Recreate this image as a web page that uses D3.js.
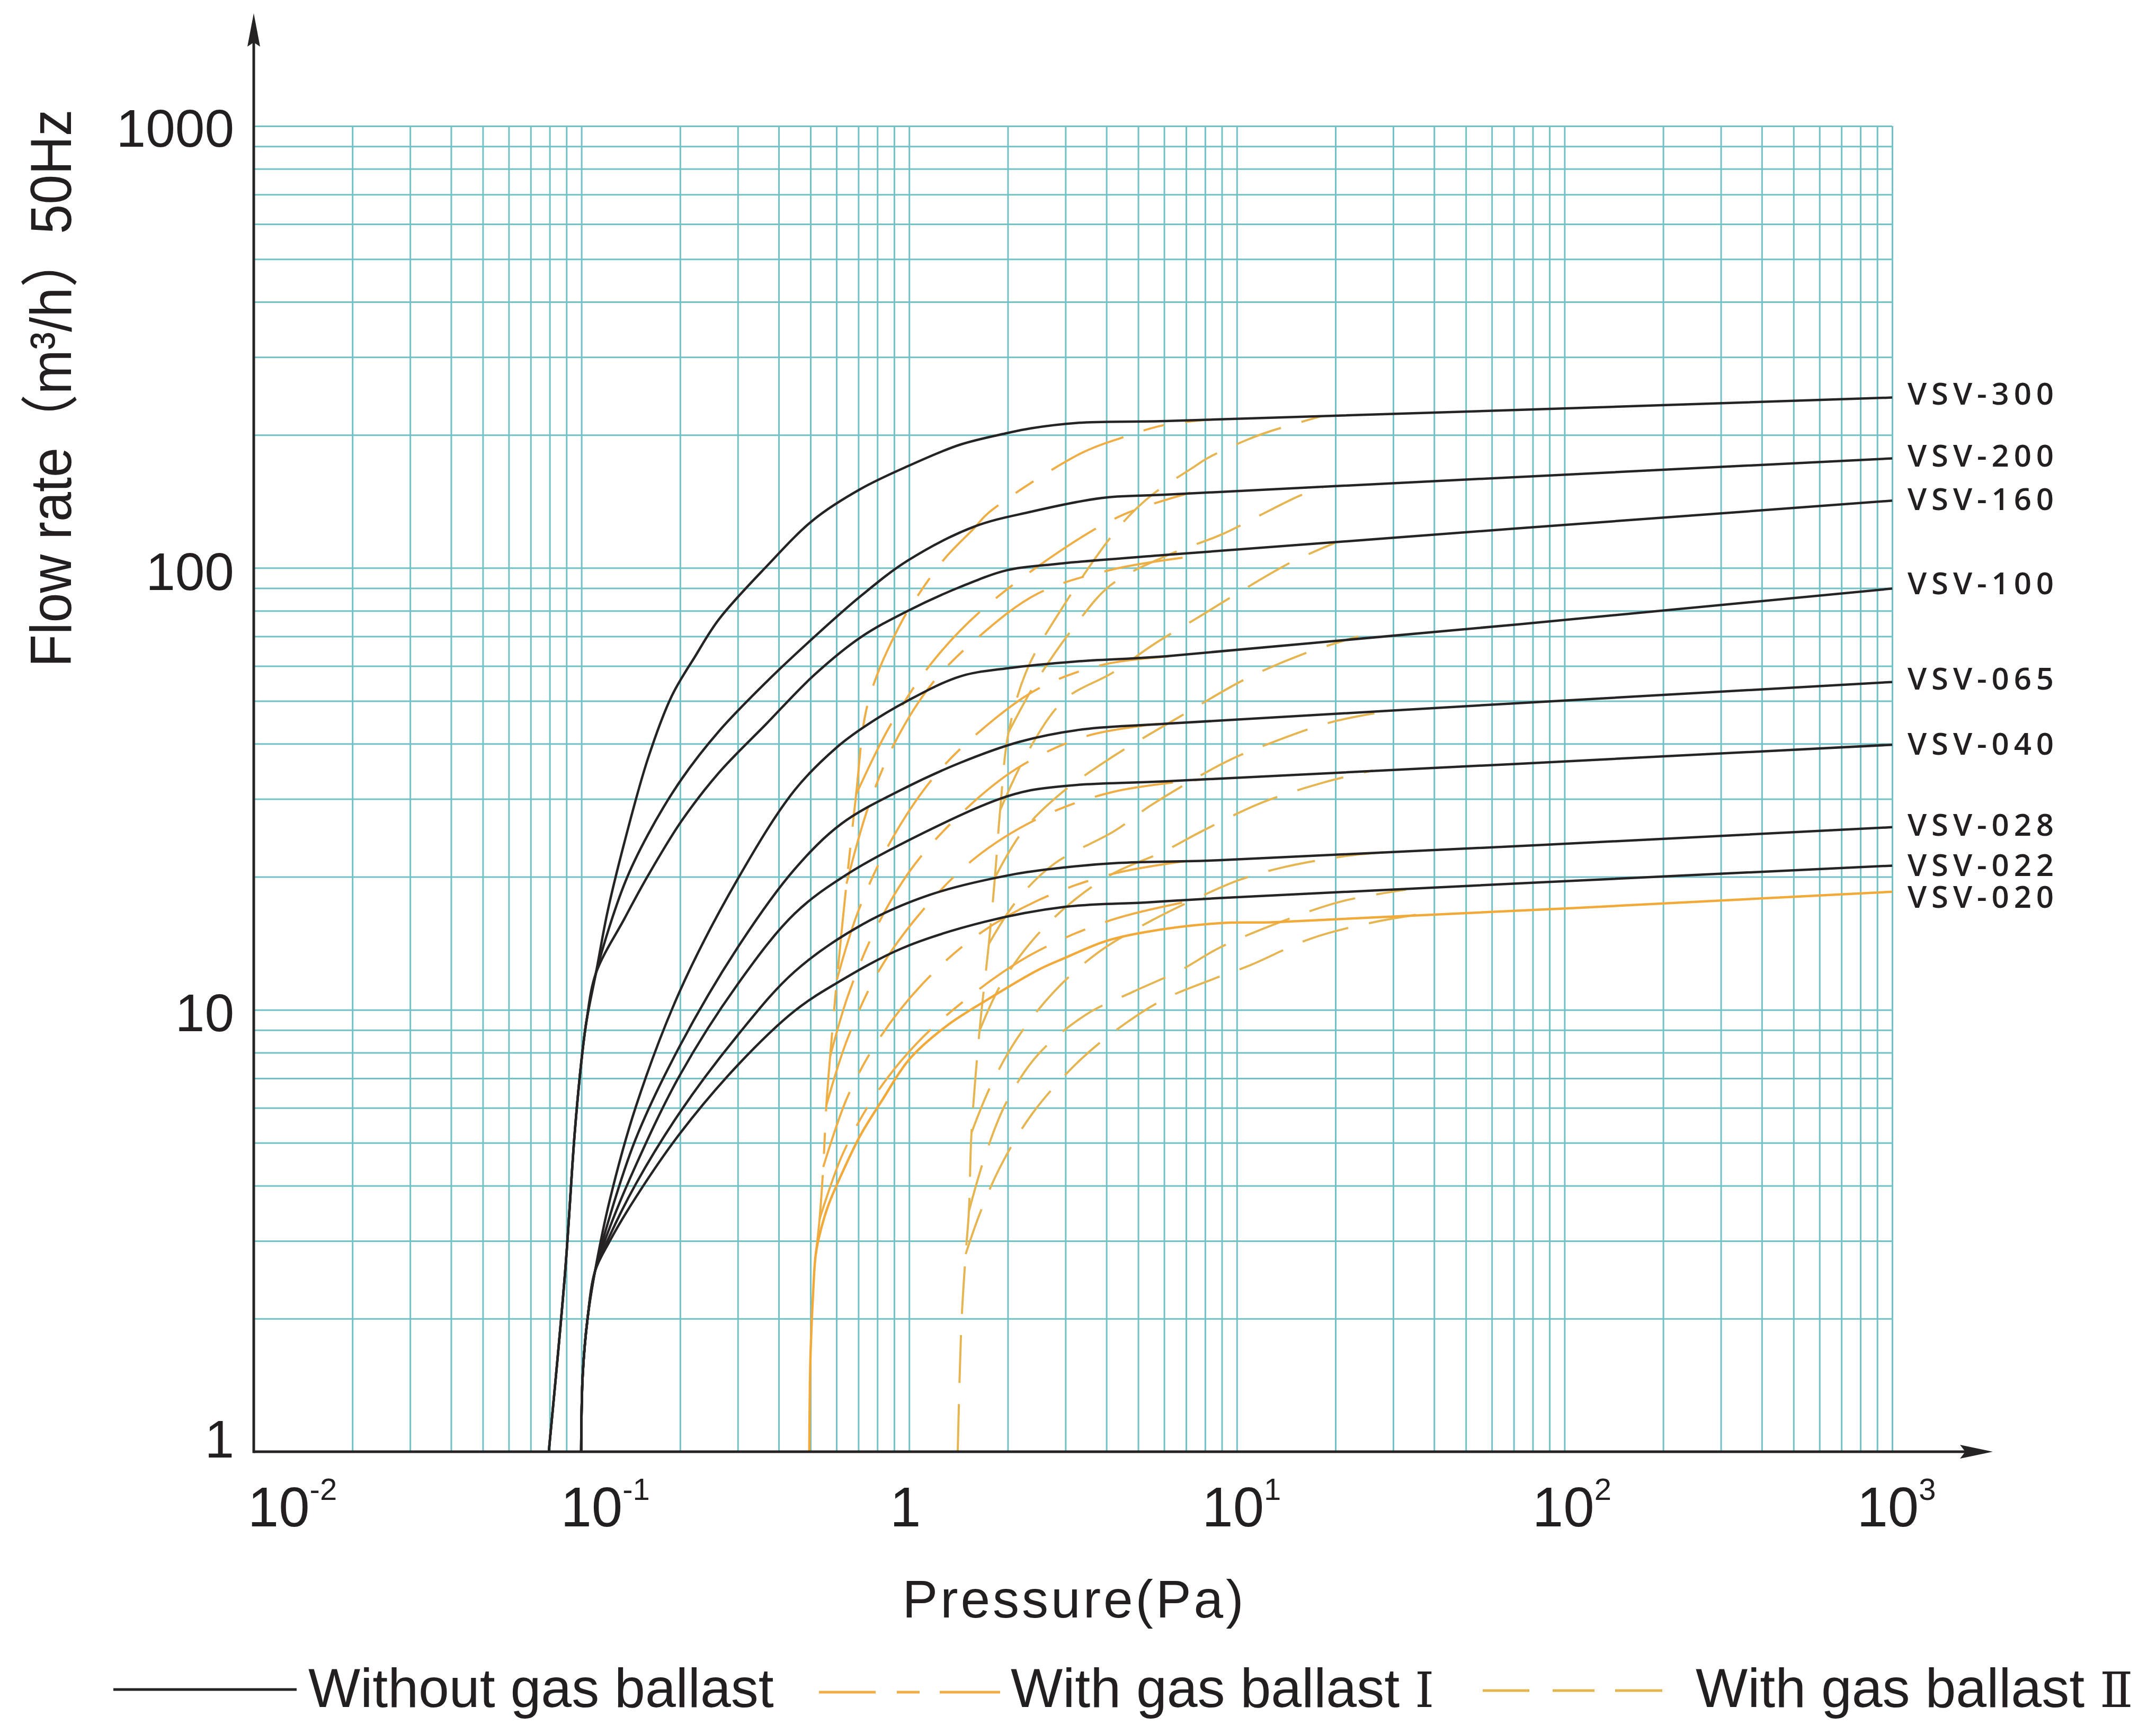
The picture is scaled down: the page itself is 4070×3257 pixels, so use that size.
<!DOCTYPE html>
<html>
<head>
<meta charset="utf-8">
<script src="https://cdn.jsdelivr.net/npm/d3@7"></script>
<style>
  body { margin: 0; background: #fff; }
  text { fill: #231f20; }
</style>
</head>
<body>
<script>
// ---- data: [pressure Pa, flow m3/h] ----
const xDomain = [0.01, 1000];
const yDomain = [1, 1000];
const xTickValues = [0.01, 0.1, 1, 10, 100, 1000];
const xTickBase = ['10', '10', '1', '10', '10', '10'];
const xTickExp = ['-2', '-1', '', '1', '2', '3'];
const yTickValues = [1, 10, 100, 1000];
const yTickLabels = ['1', '10', '100', '1000'];

const modelNames = ['VSV-300', 'VSV-200', 'VSV-160', 'VSV-100', 'VSV-065', 'VSV-040', 'VSV-028', 'VSV-022', 'VSV-020'];

// shared steep starts of the curves without gas ballast
const footA = [[0.0795, 1], [0.0892, 2.56], [0.0954, 5.27], [0.0998, 7.56], [0.1035, 9.38], [0.1107, 12.1]];
const footB = [[0.0998, 1], [0.1009, 1.49], [0.1043, 1.99], [0.110, 2.56]];

// without gas ballast
const vsv300 = footA.concat([[0.1202, 16.7], [0.1354, 24.0], [0.1595, 37.0], [0.1886, 51.3], [0.2221, 63.0], [0.2627, 76.5], [0.3658, 100.5], [0.5113, 128.6], [0.7122, 151], [0.992, 170], [1.428, 190], [1.997, 202], [2.352, 207], [3.289, 213], [6.05, 215], [1000, 243]]);
const vsv200 = footA.concat([[0.1354, 19.3], [0.1595, 24.9], [0.2017, 33.2], [0.2627, 42.7], [0.3658, 55.1], [0.5113, 69.6], [0.7122, 86.4], [0.992, 104], [1.579, 124], [2.352, 134], [3.873, 144], [6.05, 146.5], [1000, 177]]);
const vsv160 = footA.concat([[0.1354, 16.1], [0.1595, 20.1], [0.2017, 26.7], [0.2627, 34.4], [0.3658, 44.3], [0.5113, 57.1], [0.7122, 69.7], [0.992, 80], [1.428, 90.5], [1.997, 98.9], [2.781, 102], [6.05, 107], [1000, 142]]);
const vsv100 = footB.concat([[0.1215, 3.66], [0.1464, 6.02], [0.1994, 11.0], [0.2991, 19.7], [0.4471, 31.4], [0.6024, 39.3], [0.7363, 43.9], [0.992, 50.1], [1.428, 56.8], [1.997, 59.3], [3.289, 61.5], [6.05, 63.1], [1000, 89.8]]);
const vsv065 = footB.concat([[0.1215, 3.37], [0.1464, 5.10], [0.1994, 8.27], [0.2991, 13.8], [0.4471, 20.8], [0.6228, 26.4], [0.941, 31.4], [1.428, 36.2], [2.168, 40.4], [3.289, 43.0], [6.05, 44.4], [1000, 55.2]]);
const vsv040 = footB.concat([[0.1215, 3.19], [0.1464, 4.44], [0.1994, 7.10], [0.2991, 11.4], [0.4471, 16.5], [0.649, 20.3], [1.113, 25.2], [1.861, 29.9], [2.352, 31.4], [3.289, 32.3], [6.05, 32.9], [1000, 39.8]]);
const vsv028 = footB.concat([[0.1215, 3.06], [0.1464, 4.03], [0.1994, 5.85], [0.2991, 8.74], [0.4471, 12.2], [0.72, 15.6], [1.155, 18.2], [2.042, 20.2], [2.985, 21.0], [4.363, 21.5], [8.785, 21.8], [1000, 25.9]]);
const vsv022 = footB.concat([[0.1215, 2.98], [0.1464, 3.76], [0.1994, 5.24], [0.3002, 7.5], [0.4471, 9.94], [0.5957, 11.45], [0.9557, 13.8], [1.689, 15.8], [2.985, 17.1], [5.275, 17.5], [8.785, 17.9], [1000, 21.2]]);
// VSV-020 is drawn as the orange solid curve
const vsv020 = [[0.496, 1], [0.5, 1.64], [0.51, 2.33], [0.519, 2.8], [0.535, 3.13], [0.566, 3.6], [0.635, 4.39], [0.71, 5.2], [0.827, 6.24], [1.0, 7.72], [1.297, 9.18], [1.753, 10.6], [2.469, 12.3], [2.985, 13.1], [3.976, 14.3], [5.275, 15.0], [8.785, 15.7], [13.3, 15.8], [1000, 18.5]];

// with gas ballast I
const gb1_300 = [[0.519, 2.8], [0.533, 3.36], [0.547, 4.41], [0.559, 6.08], [0.574, 7.84], [0.602, 11.7], [0.644, 19.3], [0.689, 30.7], [0.736, 46.8], [0.805, 58.2], [0.928, 73.2], [0.992, 80], [1.273, 104.2], [1.579, 123], [1.747, 133.3], [3.338, 181.6], [4.462, 197.2], [6.05, 210.8], [8.37, 216.7]];
const gb1_200 = [[0.689, 30.7], [0.874, 43.9], [1.177, 61.2], [1.658, 80], [3.075, 112.6], [4.529, 132.2], [7.212, 148]];
const gb1_160 = [[0.644, 19.3], [0.753, 29], [0.907, 40.4], [1.177, 54.8], [1.644, 70.2], [2.478, 87.6], [4.173, 99.2], [6.973, 105.7]];
const gb1_100 = [[0.602, 11.7], [0.699, 16.7], [0.874, 23.9], [1.177, 33.3], [1.644, 42.7], [2.478, 53.3], [3.874, 60.3], [6.215, 63.1]];
const gb1_065 = [[0.574, 7.84], [0.649, 10.7], [0.782, 15], [1.014, 20.8], [1.418, 27.5], [2.135, 35.2], [3.464, 41.6], [5.811, 44.4]];
const gb1_040 = [[0.559, 6.08], [0.649, 8.61], [0.811, 12.3], [1.093, 16.7], [1.583, 22], [2.478, 27.1], [4.173, 31.1], [8.125, 33.3]];
const gb1_028 = [[0.547, 4.41], [0.649, 6.36], [0.811, 8.61], [1.093, 11.4], [1.583, 14.6], [2.478, 17.7], [4.173, 20.3], [7.975, 22]];
const gb1_022 = [[0.533, 3.36], [0.625, 4.69], [0.782, 6.36], [1.053, 8.38], [1.526, 10.7], [2.387, 13.4], [4.173, 16], [7.975, 17.9]];

// with gas ballast II
const gb2_300 = [[1.407, 1], [1.444, 1.94], [1.488, 2.8], [1.522, 3.5], [1.55, 5.27], [1.64, 8.96], [1.751, 14.1], [1.827, 19.9], [1.896, 28.3], [2.012, 42.5], [2.3, 59.3], [2.985, 82.9], [4.173, 118.7], [4.934, 136.2], [5.621, 148], [7.293, 168.1], [8.185, 177.6], [10.86, 195.6], [12.51, 203.3], [18.02, 220.3]];
const gb2_200 = [[2.012, 42.5], [2.478, 56.3], [3.216, 74.2], [4.127, 91.5], [6.05, 106.3], [9.05, 119.3], [11.83, 131.8], [15.54, 145.6], [18.29, 152.1]];
const gb2_160 = [[1.896, 28.3], [2.3, 38.3], [2.985, 50.4], [4.173, 57.9], [5.621, 67.4], [7.626, 77.3], [9.79, 86.6], [14.58, 102.8], [19.9, 113.9]];
const gb2_100 = [[1.827, 19.9], [2.216, 25.3], [2.876, 30.7], [4.021, 36.7], [5.435, 42.1], [7.052, 47.1], [10.5, 55.8], [16.06, 64], [23.5, 70]];
const gb2_065 = [[1.751, 14.1], [2.135, 17.7], [2.771, 21.4], [4.236, 25.4], [5.497, 29.1], [9.26, 36.4], [12.51, 40], [19.27, 44.7], [28.2, 47.3]];
const gb2_040 = [[1.64, 8.96], [1.905, 11.4], [2.387, 14.4], [3.098, 17.4], [4.173, 20.3], [5.965, 22.8], [7.857, 25.4], [11.88, 29.4], [18.42, 32.7], [25.96, 34.8]];
const gb2_028 = [[1.55, 5.27], [1.773, 6.72], [2.135, 8.61], [2.771, 11], [3.732, 13.4], [5.217, 15.6], [7.57, 17.9], [10.23, 19.7], [13.79, 21], [21.6, 22.3], [29.7, 22.8]];
const gb2_022 = [[1.522, 3.5], [1.708, 4.69], [1.982, 6.18], [2.478, 7.93], [3.464, 9.75], [4.843, 11], [6.745, 12.3], [8.82, 13.8], [13.59, 15.8], [20.9, 17.6], [32.8, 18.7]];
const gb2_020 = [[1.488, 2.8], [1.644, 3.46], [1.905, 4.44], [2.387, 5.85], [3.338, 7.72], [4.614, 9.36], [6.05, 10.6], [8.37, 11.7], [10.94, 12.6], [16.85, 14.5], [26.3, 15.8], [38.9, 16.6]];

const plainSeries = [vsv300, vsv200, vsv160, vsv100, vsv065, vsv040, vsv028, vsv022];
const ballast1Series = [gb1_300, gb1_200, gb1_160, gb1_100, gb1_065, gb1_040, gb1_028, gb1_022];
const ballast2Series = [gb2_300, gb2_200, gb2_160, gb2_100, gb2_065, gb2_040, gb2_028, gb2_022, gb2_020];

// ---- layout ----
const width = 4070, height = 3257;
const gridColor = '#72c1c5';
const black = '#262324';
const orange = '#f1aa3a';
const dash1Color = '#eeae45';
const dash2Color = '#e5b552';
const xTickNudge = [73, 45, -7, 9, 14, 8];
const yTickNudge = [-24, 5, 7, 4];
const labelNudge = [-9, -7, -5, -12, -8, -4, -6, -3, 8];

const svg = d3.select('body').append('svg')
  .attr('width', width)
  .attr('height', height)
  .attr('viewBox', `0 0 ${width} ${height}`);

const xScale = d3.scaleLog().domain(xDomain).range([479, 3572]);
const yScale = d3.scaleLog().domain(yDomain).range([2741, 238]);

// grid from the scales' own log ticks
svg.append('g')
  .attr('transform', `translate(0,${yScale(1)})`)
  .call(d3.axisBottom(xScale).tickValues(xScale.ticks()).tickSize(-(yScale(1) - yScale(1000))).tickFormat(''))
  .call(g => g.select('.domain').remove())
  .call(g => g.selectAll('line').attr('stroke', gridColor).attr('stroke-width', 3));

svg.append('g')
  .attr('transform', `translate(${xScale(0.01)},0)`)
  .call(d3.axisLeft(yScale).tickValues(yScale.ticks()).tickSize(-(xScale(1000) - xScale(0.01))).tickFormat(''))
  .call(g => g.select('.domain').remove())
  .call(g => g.selectAll('line').attr('stroke', gridColor).attr('stroke-width', 3));

const line = d3.line()
  .x(d => xScale(d[0]))
  .y(d => yScale(d[1]))
  .curve(d3.curveCatmullRom.alpha(0.5));

// gas ballast II (dashed)
svg.append('g').selectAll('path')
  .data(ballast2Series)
  .enter()
  .append('path')
  .attr('d', line)
  .attr('fill', 'none')
  .attr('stroke', dash2Color)
  .attr('stroke-width', 4)
  .attr('stroke-dasharray', '90,40');

// gas ballast I (dashed)
svg.append('g').selectAll('path')
  .data(ballast1Series)
  .enter()
  .append('path')
  .attr('d', line)
  .attr('fill', 'none')
  .attr('stroke', dash1Color)
  .attr('stroke-width', 4)
  .attr('stroke-dasharray', '150,40,40,40');

// VSV-020 orange solid
svg.append('path')
  .datum(vsv020)
  .attr('d', line)
  .attr('fill', 'none')
  .attr('stroke', orange)
  .attr('stroke-width', 4.5);

// without gas ballast
svg.append('g').selectAll('path')
  .data(plainSeries)
  .enter()
  .append('path')
  .attr('d', line)
  .attr('fill', 'none')
  .attr('stroke', black)
  .attr('stroke-width', 4.5);

// axes with arrows
const x0 = xScale(0.01), y0 = yScale(1);
svg.append('line')
  .attr('x1', x0).attr('y1', y0).attr('x2', 3712).attr('y2', y0)
  .attr('stroke', black).attr('stroke-width', 5);
svg.append('path')
  .attr('d', `M3762,${y0} L3700,${y0 - 13} L3710,${y0} L3700,${y0 + 13} Z`)
  .attr('fill', black);
svg.append('line')
  .attr('x1', x0).attr('y1', y0 + 2.5).attr('x2', x0).attr('y2', 80)
  .attr('stroke', black).attr('stroke-width', 5);
svg.append('path')
  .attr('d', `M${x0},25 L${x0 + 12},88 L${x0},80 L${x0 - 12},88 Z`)
  .attr('fill', black);

// y tick labels
svg.append('g').selectAll('text')
  .data(yTickValues)
  .enter()
  .append('text')
  .attr('x', 442)
  .attr('y', (d, i) => yScale(d) + yTickNudge[i])
  .attr('text-anchor', 'end')
  .attr('dominant-baseline', 'central')
  .style('font-family', '"Liberation Sans", Arial, sans-serif')
  .style('font-size', '100px')
  .text((d, i) => yTickLabels[i]);

// x tick labels with superscript exponents
const xLabels = svg.append('g').selectAll('text')
  .data(xTickValues)
  .enter()
  .append('text')
  .attr('x', (d, i) => xScale(d) + xTickNudge[i])
  .attr('y', 2882)
  .attr('text-anchor', 'middle')
  .style('font-family', '"Liberation Sans Narrow", "Liberation Sans", Arial, sans-serif')
  .style('font-size', '105px');
xLabels.append('tspan').text((d, i) => xTickBase[i]);
xLabels.append('tspan')
  .attr('dy', -50)
  .style('font-size', '58px')
  .text((d, i) => xTickExp[i]);

// axis titles
svg.append('text')
  .attr('x', 2028)
  .attr('y', 3054)
  .attr('text-anchor', 'middle')
  .style('font-family', '"Liberation Sans", Arial, sans-serif')
  .style('font-size', '100px')
  .style('letter-spacing', '5px')
  .text('Pressure(Pa)');

svg.append('text')
  .attr('transform', 'translate(134,733) rotate(-90)')
  .attr('text-anchor', 'middle')
  .attr('textLength', 1053)
  .attr('lengthAdjust', 'spacingAndGlyphs')
  .style('font-family', '"Liberation Sans Narrow", "Liberation Sans", "Noto Sans CJK SC", sans-serif')
  .style('font-size', '110px')
  .text('Flow rate（m³/h）50Hz');

// model labels at the right ends
const lastPoints = plainSeries.concat([vsv020]).map(s => s[s.length - 1]);
svg.append('g').selectAll('text')
  .data(lastPoints)
  .enter()
  .append('text')
  .attr('x', 3601)
  .attr('y', (d, i) => yScale(d[1]) + labelNudge[i])
  .attr('dominant-baseline', 'central')
  .attr('textLength', 276)
  .attr('lengthAdjust', 'spacing')
  .style('font-family', '"Open Sans", "Noto Sans", sans-serif')
  .style('font-weight', 600)
  .style('font-size', '58px')
  .text((d, i) => modelNames[i]);

// legend
const legend = svg.append('g')
  .style('font-family', '"Liberation Sans", Arial, sans-serif')
  .style('font-size', '104px');
legend.append('line')
  .attr('x1', 214).attr('x2', 560).attr('y1', 3190).attr('y2', 3190)
  .attr('stroke', black).attr('stroke-width', 5);
legend.append('text').attr('x', 582).attr('y', 3223).text('Without gas ballast');
legend.append('line')
  .attr('x1', 1546).attr('x2', 1888).attr('y1', 3195).attr('y2', 3195)
  .attr('stroke', dash1Color).attr('stroke-width', 5)
  .attr('stroke-dasharray', '107,40,43,38,114');
const legI = legend.append('text').attr('x', 1908).attr('y', 3223);
legI.append('tspan').text('With gas ballast ');
legI.append('tspan').style('font-family', '"DejaVu Serif", "Liberation Serif", serif').style('font-size', '92px').text('Ⅰ');
legend.append('line')
  .attr('x1', 2799).attr('x2', 3138).attr('y1', 3192).attr('y2', 3192)
  .attr('stroke', dash2Color).attr('stroke-width', 5)
  .attr('stroke-dasharray', '88,44,79,39,89');
const legII = legend.append('text').attr('x', 3201).attr('y', 3223);
legII.append('tspan').text('With gas ballast ');
legII.append('tspan').style('font-family', '"DejaVu Serif", "Liberation Serif", serif').style('font-size', '92px').text('Ⅱ');
</script>
</body>
</html>
